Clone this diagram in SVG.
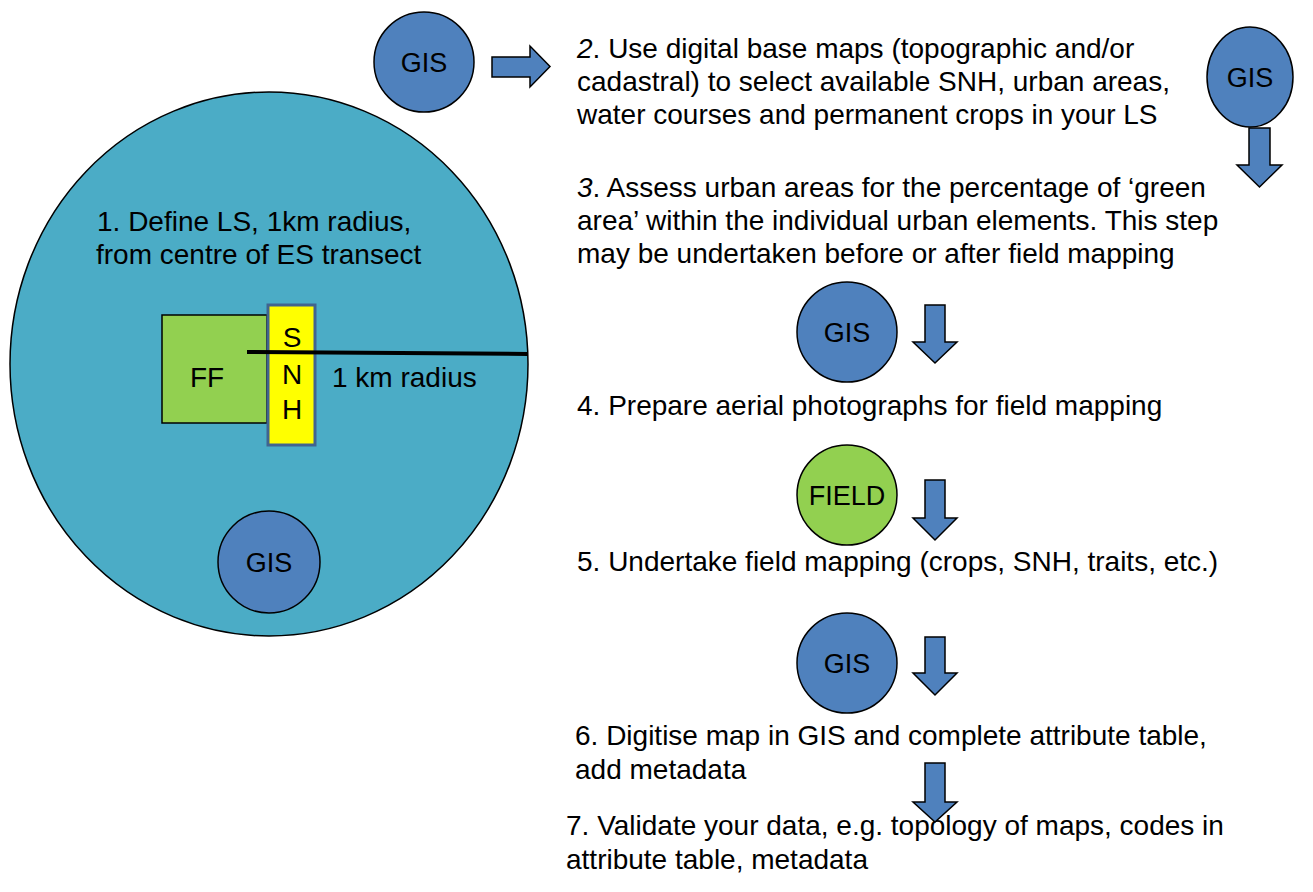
<svg xmlns="http://www.w3.org/2000/svg" width="1313" height="892" viewBox="0 0 1313 892">
<style>
text { font-family: "Liberation Sans", Arial, sans-serif; font-size: 28px; fill: #000; }
.c { text-anchor: middle; font-size: 27px; }
.gis { fill: #4f81bd; stroke: #000; stroke-width: 1.5; }
.field { fill: #92d050; stroke: #000; stroke-width: 1.5; }
.arrow { fill: #4f81bd; stroke: #000; stroke-width: 1.5; stroke-linejoin: miter; }
</style>
<rect width="1313" height="892" fill="#fff"/>
<g id="landscape">
  <ellipse cx="269" cy="364" rx="259" ry="272" fill="#4bacc6" stroke="#000" stroke-width="1.5"/>
  <text x="97" y="231">1. Define LS, 1km radius,</text>
  <text x="96" y="264">from centre of ES transect</text>
</g>
<g id="ff">
  <rect x="162" y="315" width="105" height="108" fill="#92d050" stroke="#000" stroke-width="1.5"/>
  <text x="190" y="387">FF</text>
</g>
<g id="snh">
  <rect x="268" y="305" width="47" height="140" fill="#ffff00" stroke="#41648f" stroke-width="3"/>
  <text class="c" x="292" y="347" style="font-size:28px">S</text>
  <text class="c" x="292" y="384" style="font-size:28px">N</text>
  <text class="c" x="292" y="419" style="font-size:28px">H</text>
</g>
<g id="radius">
  <line x1="247" y1="352" x2="528" y2="354" stroke="#000" stroke-width="4"/>
  <text x="332" y="387">1 km radius</text>
</g>
<g id="gis-ls"><circle class="gis" cx="269" cy="562" r="51"/><text class="c" x="269" y="572">GIS</text></g>
<g id="gis-top"><circle class="gis" cx="424" cy="62" r="50"/><text class="c" x="424" y="72">GIS</text></g>
<g id="gis-right"><ellipse class="gis" cx="1250" cy="77" rx="43" ry="50"/><text class="c" x="1250" y="87">GIS</text></g>
<g id="gis-3"><circle class="gis" cx="847" cy="332" r="50"/><text class="c" x="847" y="342">GIS</text></g>
<g id="field"><circle class="field" cx="847" cy="495" r="50"/><text class="c" x="847" y="505">FIELD</text></g>
<g id="gis-5"><circle class="gis" cx="847" cy="663" r="50"/><text class="c" x="847" y="673">GIS</text></g>
<g id="step2">
  <text x="577" y="58"><tspan font-style="italic">2</tspan>. Use digital base maps (topographic and/or</text>
  <text x="577" y="91">cadastral) to select available SNH, urban areas,</text>
  <text x="577" y="124">water courses and permanent crops in your LS</text>
</g>
<g id="step3">
  <text x="577" y="197"><tspan font-style="italic">3</tspan>. Assess urban areas for the percentage of ‘green</text>
  <text x="577" y="230">area’ within the individual urban elements. This step</text>
  <text x="577" y="263">may be undertaken before or after field mapping</text>
</g>
<g id="step4"><text x="577" y="415">4. Prepare aerial photographs for field mapping</text></g>
<g id="step5"><text x="577" y="571">5. Undertake field mapping (crops, SNH, traits, etc.)</text></g>
<g id="step6">
  <text x="575" y="745">6. Digitise map in GIS and complete attribute table,</text>
  <text x="575" y="779">add metadata</text>
</g>
<g id="step7">
  <text x="566" y="835">7. Validate your data, e.g. topology of maps, codes in</text>
  <text x="566" y="869">attribute table, metadata</text>
</g>
<g id="connectors">
  <polygon class="arrow" points="492,57 530,57 530,46 550,66.5 530,87 530,77 492,77"/>
  <polygon class="arrow" points="1249,128 1270,128 1270,165 1282,165 1259.5,187 1237,165 1249,165"/>
  <polygon class="arrow" points="925,305 945,305 945,342 957,342 935,363 913,342 925,342"/>
  <polygon class="arrow" points="925,480 945,480 945,518 957,518 935,540 913,518 925,518"/>
  <polygon class="arrow" points="925,637 945,637 945,673 957,673 935,695 913,673 925,673"/>
  <polygon class="arrow" points="925,763 945,763 945,802 957,802 935,822 913,802 925,802"/>
</g>
</svg>
